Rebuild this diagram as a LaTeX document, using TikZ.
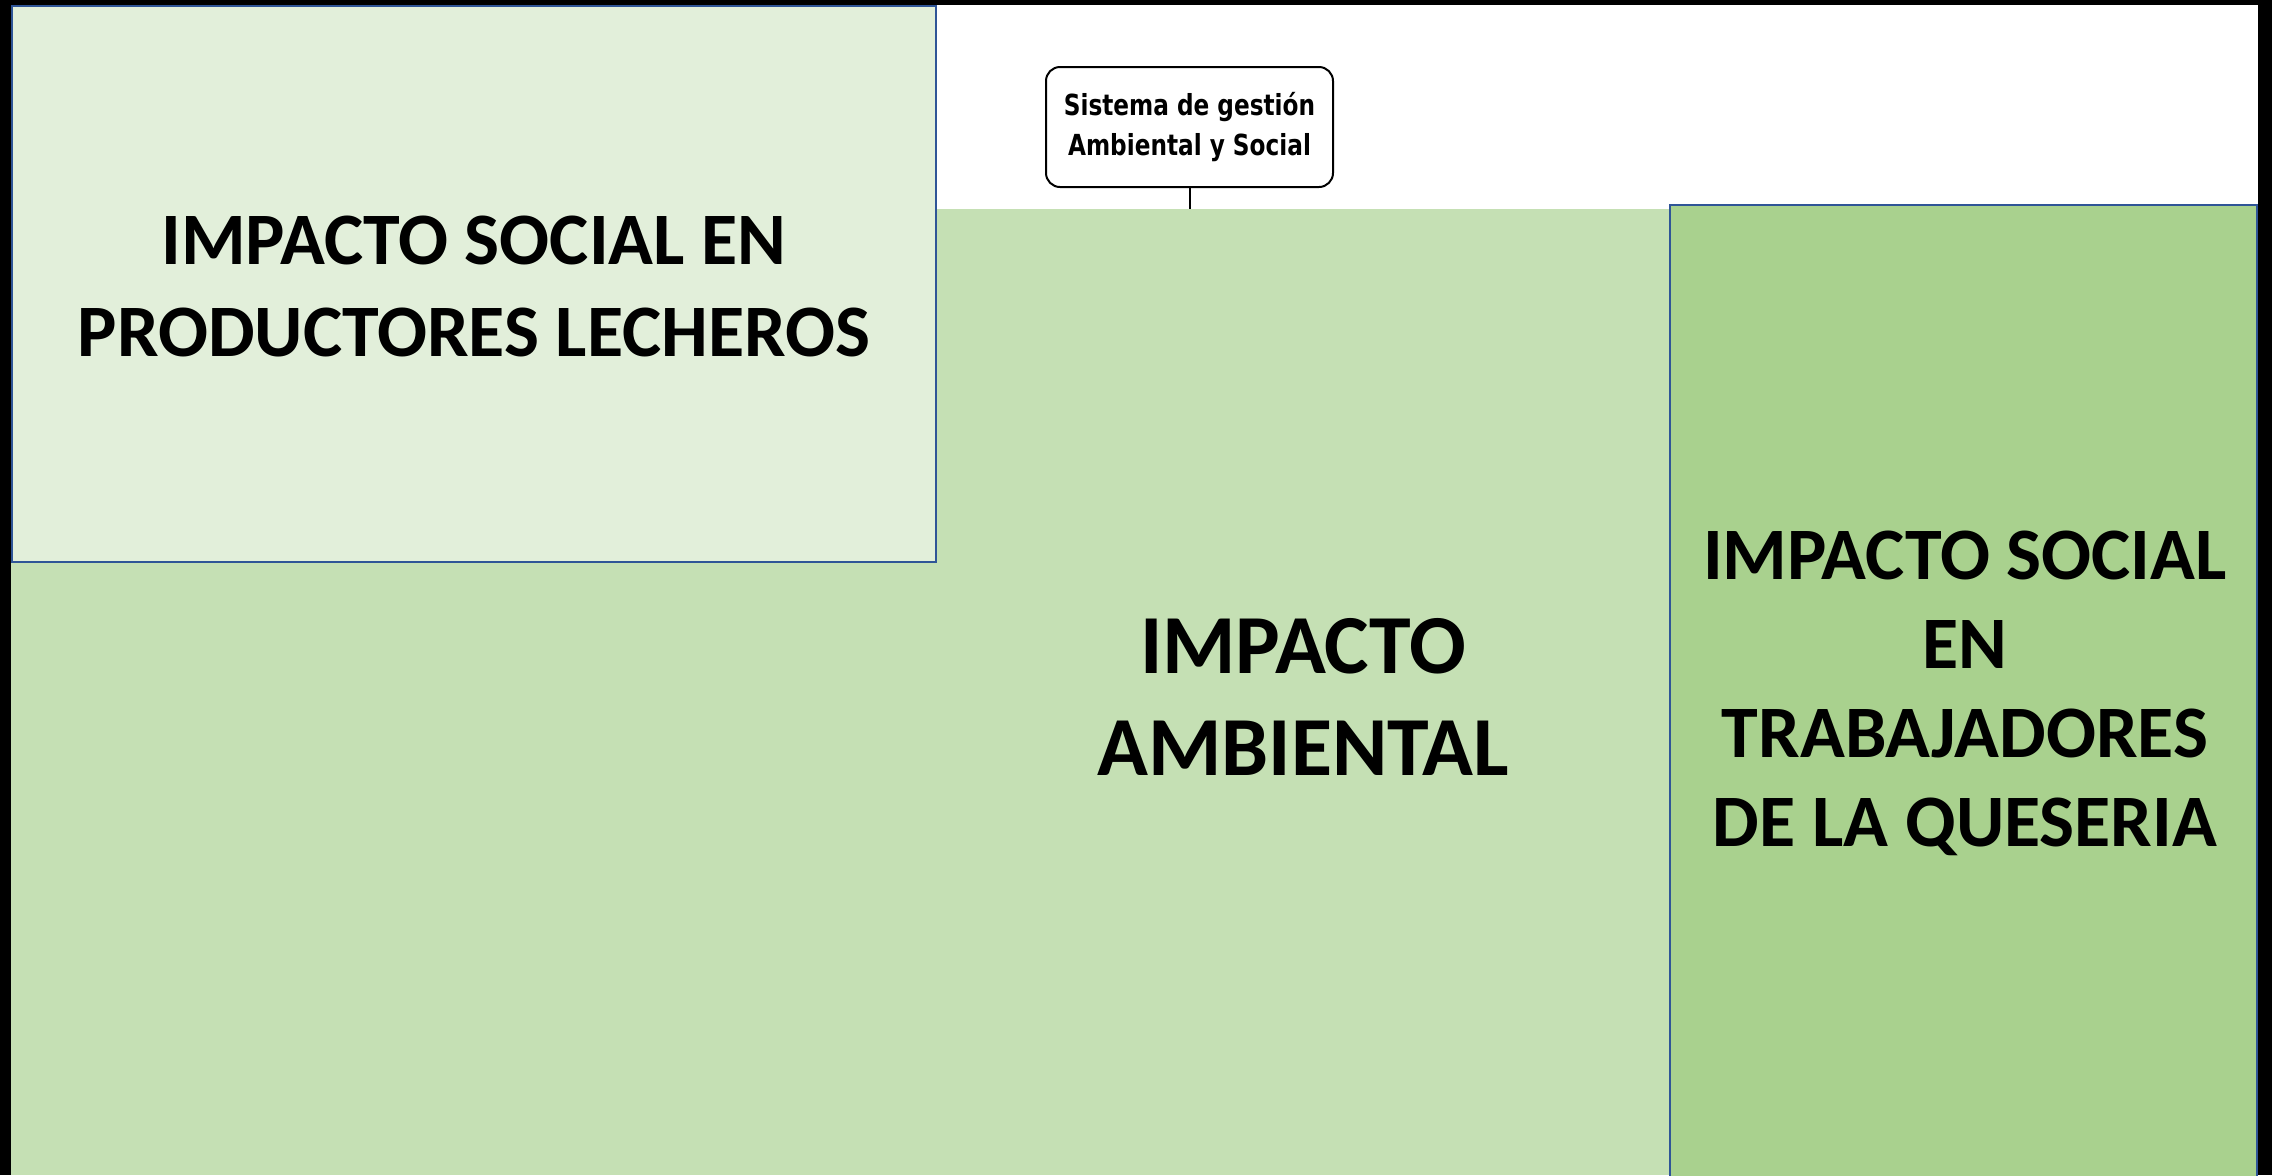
\documentclass[tikz,border=0pt]{standalone}
\usepackage{fontspec}
\setmainfont{Carlito}
\newfontfamily\boxfont{DejaVu Sans}[FakeStretch=0.8]
\definecolor{lightg}{HTML}{E2EFDA}
\definecolor{midg}{HTML}{C5E0B4}
\definecolor{darkg}{HTML}{A9D18E}
\definecolor{frameblue}{HTML}{2F5597}
\tikzset{
  bigtext/.style={align=center, text=black, font=\bfseries\fontsize{37}{46}\selectfont},
  panel/.style={draw=frameblue, line width=1.3pt},
  sysbox/.style={draw=black, line width=1pt, rounded corners=7pt, fill=white, align=center,
    minimum width=143.5pt, minimum height=60pt, inner sep=0pt,
    font=\boxfont\bfseries\fontsize{14.5}{20}\selectfont},
}
\begin{document}
\begin{tikzpicture}[x=0.5pt,y=-0.5pt]
\useasboundingbox (0,0) rectangle (2272,1175);
\fill[black] (0,0) rectangle (2272,1175);
\fill[white] (11,5) rectangle (2258,1175);
% big green area
\fill[midg] (11,209) rectangle (1670,1175);
% top-left panel
\filldraw[panel, fill=lightg] (12,6) rectangle (936,562);
% right panel
\filldraw[panel, fill=darkg] (1670,205) rectangle (2257,1180);
% system box
\node[sysbox] (sys) at (1189.5,127) {Sistema de gestión\\Ambiental y Social};
\coordinate (drop) at (1189.5,209);
\draw[line width=1pt] (sys.south) -- (drop);
% texts
\node[bigtext] (prod) at (474,286) {IMPACTO SOCIAL EN\\PRODUCTORES LECHEROS};
\node[bigtext, font=\bfseries\fontsize{42}{51}\selectfont] (amb) at (1303,697) {IMPACTO\\AMBIENTAL};
\node[bigtext, font=\bfseries\fontsize{37}{44.5}\selectfont] (trab) at (1965,693) {IMPACTO SOCIAL\\EN\\TRABAJADORES\\DE LA QUESERIA};
\end{tikzpicture}
\end{document}
